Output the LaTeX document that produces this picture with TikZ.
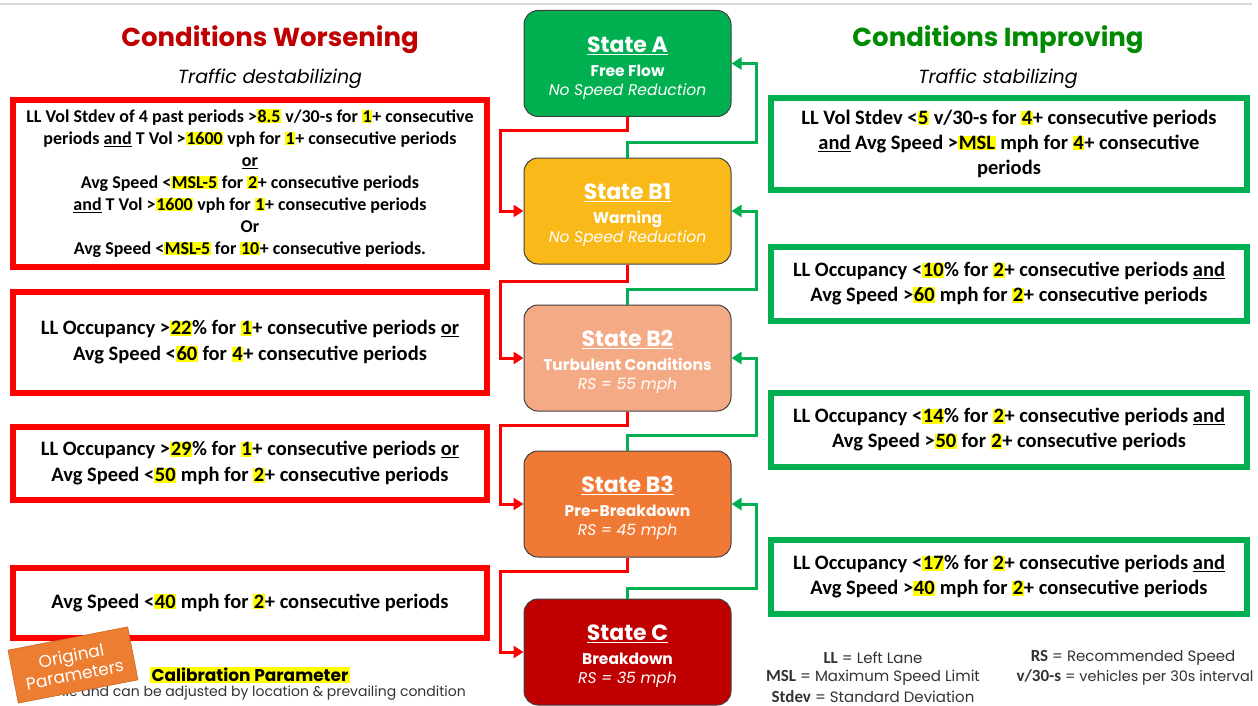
\documentclass[tikz,border=0pt]{standalone}
\usepackage{fontspec}
\usepackage{xcolor}
\usetikzlibrary{arrows.meta}
\newfontfamily\gothic{Poppins}
\newfontfamily\calib{Carlito}
\setmainfont{Carlito}

\definecolor{stA}{HTML}{00B050}
\definecolor{stBone}{HTML}{F9B918}
\definecolor{stBtwo}{HTML}{F4AA85}
\definecolor{stBthree}{HTML}{F07A35}
\definecolor{stC}{HTML}{C00000}
\definecolor{worsered}{HTML}{FF0000}
\definecolor{bettergreen}{HTML}{00B050}
\definecolor{headred}{HTML}{C00000}
\definecolor{headgreen}{HTML}{008A00}
\definecolor{hiyel}{HTML}{FFFF00}
\definecolor{badgeor}{HTML}{ED7D31}

\newcommand\hy[1]{{\setlength{\fboxsep}{0.6pt}\colorbox{hiyel}{#1}}}
\newcommand\abbr[1]{{\calib\bfseries\fontsize{17}{16}\selectfont #1}}
\newcommand\sttitle[1]{{\rule{0pt}{25pt}\fontsize{22}{24}\selectfont\bfseries\underline{#1}}}

\tikzset{
  state/.style={draw=black!75, line width=1pt, rounded corners=14pt, minimum width=207pt, minimum height=106pt,
    text=white, align=center, font=\gothic\fontsize{15.5}{19}\selectfont},
  worse/.style={draw=worsered, line width=6pt, fill=white, minimum width=474pt, align=center,
    font=\calib\bfseries\fontsize{20.5}{26}\selectfont},
  better/.style={draw=bettergreen, line width=6pt, fill=white, minimum width=476pt, minimum height=74pt, align=center,
    font=\calib\bfseries\fontsize{20.5}{25}\selectfont},
  worseline/.style={draw=worsered, line width=3pt, -{Triangle[length=10pt,width=12pt]}},
  betterline/.style={draw=bettergreen, line width=3pt, -{Triangle[length=10pt,width=12pt]}},
  heading/.style={font=\gothic\bfseries\fontsize{26}{28}\selectfont},
  subheading/.style={font=\gothic\itshape\fontsize{19}{20}\selectfont},
  legend/.style={font=\gothic\fontsize{15}{16}\selectfont, text=black!80},
}

\begin{document}
\begin{tikzpicture}[x=1pt,y=-1pt]
  \useasboundingbox (0,0) rectangle (1258,706);
  \clip (0,0) rectangle (1258,706);
  \fill[white] (0,0) rectangle (1258,706);
  \draw[black!15, line width=1.5pt] (0,4) -- (1252,4);

  \node[heading, text=headred] (worsen) at (270,40) {Conditions Worsening};
  \node[subheading] (destab) at (270,79) {Traffic destabilizing};
  \node[heading, text=headgreen] (improve) at (998,40) {Conditions Improving};
  \node[subheading] (stab) at (998,79) {Traffic stabilizing};

  \node[state, fill=stA] (A) at (627.5,63.5) {\sttitle{State A}\\[5pt]
    {\bfseries Free Flow}\\ {\itshape No Speed Reduction}};
  \node[state, fill=stBone] (B1) at (627.5,211) {\sttitle{State B1}\\[5pt]
    {\bfseries Warning}\\ {\itshape No Speed Reduction}};
  \node[state, fill=stBtwo] (B2) at (627.5,358) {\sttitle{State B2}\\[5pt]
    {\bfseries Turbulent Conditions}\\ {\itshape RS = 55 mph}};
  \node[state, fill=stBthree] (B3) at (627.5,504) {\sttitle{State B3}\\[5pt]
    {\bfseries Pre-Breakdown}\\ {\itshape RS = 45 mph}};
  \node[state, fill=stC] (C) at (627.5,652) {\sttitle{State C}\\[5pt]
    {\bfseries Breakdown}\\ {\itshape RS = 35 mph}};

  \node[worse, minimum height=167pt, font=\calib\bfseries\fontsize{18}{22}\selectfont] (w1) at (250,183.5)
    {LL Vol Stdev of 4 past periods >\hy{8.5} v/30-s for \hy{1}+ consecutive\\
     periods \underline{and} T Vol >\hy{1600} vph for \hy{1}+ consecutive periods\\
     \underline{or}\\
     Avg Speed <\hy{MSL-5} for \hy{2}+ consecutive periods\\
     \underline{and} T Vol >\hy{1600} vph for \hy{1}+ consecutive periods\\
     Or\\
     Avg Speed <\hy{MSL-5} for \hy{10}+ consecutive periods.};
  \node[worse, minimum height=101pt] (w2) at (250,342.5)
    {LL Occupancy >\hy{22}\% for \hy{1}+ consecutive periods \underline{or}\\
     Avg Speed <\hy{60} for \hy{4}+ consecutive periods};
  \node[worse, minimum height=73pt] (w3) at (250,463.5)
    {LL Occupancy >\hy{29}\% for \hy{1}+ consecutive periods \underline{or}\\
     Avg Speed <\hy{50} mph for \hy{2}+ consecutive periods};
  \node[worse, minimum height=70pt] (w4) at (250,603)
    {Avg Speed <\hy{40} mph for \hy{2}+ consecutive periods};

  \node[better, minimum height=92pt] (b1) at (1009,144)
    {LL Vol Stdev <\hy{5} v/30-s for \hy{4}+ consecutive periods\\
     \underline{and} Avg Speed >\hy{MSL} mph for \hy{4}+ consecutive\\
     periods};
  \node[better] (b2) at (1009,284)
    {LL Occupancy <\hy{10}\% for \hy{2}+ consecutive periods \underline{and}\\
     Avg Speed >\hy{60} mph for \hy{2}+ consecutive periods};
  \node[better] (b3) at (1009,430)
    {LL Occupancy <\hy{14}\% for \hy{2}+ consecutive periods \underline{and}\\
     Avg Speed >\hy{50} for \hy{2}+ consecutive periods};
  \node[better] (b4) at (1009,577)
    {LL Occupancy <\hy{17}\% for \hy{2}+ consecutive periods \underline{and}\\
     Avg Speed >\hy{40} mph for \hy{2}+ consecutive periods};

  \draw[worseline] (A.south) -- ++(0,14) -| ([xshift=-23pt]B1.west) -- (B1.west);
  \draw[worseline] (B1.south) -- ++(0,17) -| ([xshift=-23pt]B2.west) -- (B2.west);
  \draw[worseline] (B2.south) -- ++(0,14) -| ([xshift=-23pt]B3.west) -- (B3.west);
  \draw[worseline] (B3.south) -- ++(0,14) -| ([xshift=-23pt]C.west) -- (C.west);

  \draw[betterline] (B1.north) -- ++(0,-15) -| ([xshift=25pt]A.east) -- (A.east);
  \draw[betterline] (B2.north) -- ++(0,-15) -| ([xshift=25pt]B1.east) -- (B1.east);
  \draw[betterline] (B3.north) -- ++(0,-15) -| ([xshift=25pt]B2.east) -- (B2.east);
  \draw[betterline] (C.north) -- ++(0,-10) -| ([xshift=25pt]B3.east) -- (B3.east);

  \node[font=\gothic\bfseries\fontsize{17}{19}\selectfont, fill=hiyel, inner sep=1.5pt] (calib) at (250,675) {Calibration Parameter};
  \node[font=\gothic\fontsize{14}{16}\selectfont, text=black!80, anchor=east, inner sep=0pt] (calnote) at (466,693)
    {mic and can be adjusted by location \& prevailing condition};
  \node[fill=badgeor, draw=badgeor!80!black, line width=0.5pt, rotate=11, minimum width=122pt, minimum height=54pt,
    text=white, align=center, font=\gothic\fontsize{17}{19}\selectfont, inner sep=1pt] (orig) at (73,665) {Original\\Parameters};

  \node[legend] (ll) at (873,658) {\abbr{LL} = Left Lane};
  \node[legend] (msl) at (873,678) {\abbr{MSL} = Maximum Speed Limit};
  \node[legend] (sd) at (873,697) {\abbr{Stdev} = Standard Deviation};
  \node[legend] (rs) at (1133,658) {\abbr{RS} = Recommended Speed};
  \node[legend, font=\gothic\fontsize{14.5}{16}\selectfont] (vs) at (1135,677) {\abbr{v/30-s} = vehicles per 30s interval};
\end{tikzpicture}
\end{document}
